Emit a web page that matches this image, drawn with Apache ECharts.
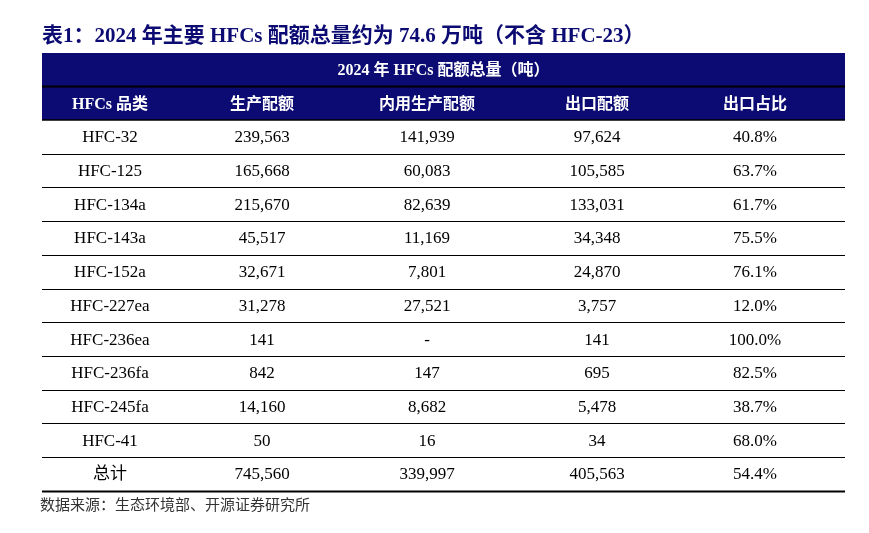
<!DOCTYPE html>
<html>
<head>
<meta charset="utf-8">
<script src="https://cdn.jsdelivr.net/npm/echarts@6/dist/echarts.min.js"></script>
<style>html,body{margin:0;padding:0;background:#fff}#main{width:869px;height:533px}</style>
</head>
<body>
<div id="main"></div>
<script>
var headers = ['HFCs 品类', '生产配额', '内用生产配额', '出口配额', '出口占比'];
var categories = ['HFC-32', 'HFC-125', 'HFC-134a', 'HFC-143a', 'HFC-152a', 'HFC-227ea', 'HFC-236ea', 'HFC-236fa', 'HFC-245fa', 'HFC-41', '总计'];
var production = ['239,563', '165,668', '215,670', '45,517', '32,671', '31,278', '141', '842', '14,160', '50', '745,560'];
var domestic = ['141,939', '60,083', '82,639', '11,169', '7,801', '27,521', '-', '147', '8,682', '16', '339,997'];
var exportQuota = ['97,624', '105,585', '133,031', '34,348', '24,870', '3,757', '141', '695', '5,478', '34', '405,563'];
var exportShare = ['40.8%', '63.7%', '61.7%', '75.5%', '76.1%', '12.0%', '100.0%', '82.5%', '38.7%', '68.0%', '54.4%'];

var FONT = '"Liberation Serif", "Noto Sans CJK SC", serif';
var NAVY = '#0b0b73';
var left = 42, right = 845, colX = [110, 262, 427, 597, 755];
var rowTop = 120, rowH = 33.7;

var g = [];
g.push({ type: 'text', left: 42, top: 26, style: { text: '表1：2024 年主要 HFCs 配额总量约为 74.6 万吨（不含 HFC-23）', font: 'bold 21px ' + FONT, fill: NAVY } });
g.push({ type: 'rect', shape: { x: left, y: 53, width: right - left, height: 67 }, style: { fill: NAVY } });
g.push({ type: 'line', shape: { x1: left, y1: 86.5, x2: right, y2: 86.5 }, style: { stroke: '#000', lineWidth: 2 } });
g.push({ type: 'text', x: (left + right) / 2, y: 71, style: { text: '2024 年 HFCs 配额总量（吨）', font: 'bold 16px ' + FONT, fill: '#fff', align: 'center', verticalAlign: 'middle' } });
headers.forEach(function (h, i) {
    g.push({ type: 'text', x: colX[i], y: 105, style: { text: h, font: 'bold 16px ' + FONT, fill: '#fff', align: 'center', verticalAlign: 'middle' } });
});
g.push({ type: 'line', shape: { x1: left, y1: rowTop, x2: right, y2: rowTop }, style: { stroke: '#000', lineWidth: 1.5 } });

categories.forEach(function (c, r) {
    var cy = rowTop + rowH * (r + 0.5) + 1;
    [c, production[r], domestic[r], exportQuota[r], exportShare[r]].forEach(function (v, i) {
        g.push({ type: 'text', x: colX[i], y: cy, style: { text: v, font: '17px ' + FONT, fill: '#000', align: 'center', verticalAlign: 'middle' } });
    });
    var ly = Math.round(rowTop + rowH * (r + 1)) + 0.5;
    g.push({ type: 'line', shape: { x1: left, y1: ly, x2: right, y2: ly }, style: { stroke: '#000', lineWidth: r === categories.length - 1 ? 2 : 1.2 } });
});

g.push({ type: 'text', left: 40, top: 499, style: { text: '数据来源：生态环境部、开源证券研究所', font: '15px ' + FONT, fill: '#333' } });

var chart = echarts.init(document.getElementById('main'));
chart.setOption({ animation: false, graphic: g });
</script>
</body>
</html>
